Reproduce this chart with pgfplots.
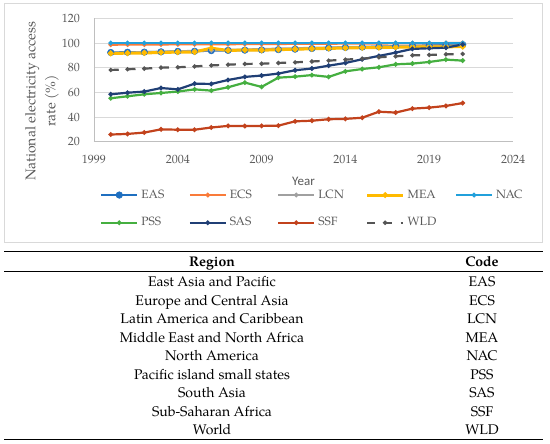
\documentclass[border=0pt]{standalone}
\usepackage{pgfplots}
\pgfplotsset{compat=1.18}
\usepackage{fontspec}
\setmainfont{TeX Gyre Pagella}
\newfontfamily\carlito{Carlito}
\definecolor{cEAS}{HTML}{1F6FC0}
\definecolor{cECS}{HTML}{F97B3A}
\definecolor{cLCN}{HTML}{A0A0A0}
\definecolor{cMEA}{HTML}{FFBA00}
\definecolor{cNAC}{HTML}{21A0DB}
\definecolor{cPSS}{HTML}{45AF40}
\definecolor{cSAS}{HTML}{203F75}
\definecolor{cSSF}{HTML}{C2421C}
\definecolor{cWLD}{HTML}{555555}
\definecolor{cGrid}{HTML}{D9D9D9}
\definecolor{cAxis}{HTML}{BFBFBF}
\definecolor{cText}{HTML}{595959}
\definecolor{cBorder}{HTML}{D9D9D9}

\pgfplotstableread{
year EAS ECS LCN MEA NAC PSS SAS SSF WLD
2000 92.3 98.6 91.8 91.6 100 55.2 58.4 25.8 78.1
2001 92.5 98.7 92.2 91.7 100 56.8 59.7 26.3 78.7
2002 92.6 98.7 92.6 91.9 100 58.4 60.6 27.4 79.2
2003 92.8 98.8 92.9 92.3 100 59.5 63.5 30.0 80.0
2004 93.2 98.9 93.2 92.6 100 60.6 62.4 29.7 80.3
2005 93.3 98.9 93.6 92.7 100 62.4 67.0 29.7 81.0
2006 93.8 99.0 94.0 95.8 100 61.4 66.8 31.5 81.8
2007 94.0 99.0 94.4 93.9 100 64.1 70.0 32.8 82.4
2008 94.2 99.1 94.7 94.3 100 67.9 72.5 32.7 83.0
2009 94.4 99.1 95.0 94.1 100 64.4 73.6 32.8 83.2
2010 94.6 99.2 95.4 94.6 100 71.9 75.2 33.0 83.8
2011 95.0 99.3 95.7 94.9 100 72.7 77.9 36.5 84.3
2012 95.5 99.3 96.0 95.3 100 74.0 79.3 37.0 85.0
2013 96.0 99.4 96.3 95.6 100 72.5 81.6 38.2 85.7
2014 96.4 99.5 96.6 95.9 100 77.0 83.8 38.5 86.5
2015 96.7 99.5 96.9 96.2 100 78.9 86.8 39.4 87.3
2016 97.0 99.6 97.1 96.3 100 80.3 89.5 44.3 88.4
2017 97.4 99.7 97.3 96.5 100 82.7 92.2 43.6 89.2
2018 97.7 99.7 97.5 96.7 100 83.3 95.2 46.8 90.0
2019 98.0 99.8 97.7 96.8 100 84.6 95.7 47.6 90.3
2020 98.3 99.9 97.9 96.9 100 86.5 96.2 49.0 90.8
2021 98.6 99.9 98.1 97.0 100 85.7 98.8 51.3 91.1
}\datatable

\begin{document}
\begin{tikzpicture}[x=1pt,y=1pt]
\path[use as bounding box] (0,0) rectangle (550,444);
\draw[color=cBorder, line width=0.8pt] (4,201.3) rectangle (542,441);
\begin{axis}[
  at={(94pt,302.3pt)}, anchor=south west,
  scale only axis, width=419pt, height=123.4pt,
  xmin=1999, xmax=2024, ymin=20, ymax=120,
  xtick={1999,2004,2009,2014,2019,2024},
  ytick={20,40,60,80,100,120},
  axis x line=bottom, axis y line=left,
  axis line style={-, draw=cAxis, line width=0.8pt},
  major tick length=0pt,
  ymajorgrids, grid style={cGrid, line width=0.8pt},
  /pgf/number format/assume math mode=true,
  /pgf/number format/1000 sep={},
  tick label style={font=\fontsize{12}{14}\selectfont, text=cText},
  xticklabel style={anchor=center, yshift=-18pt},
  yticklabel style={anchor=east, inner sep=0pt, xshift=-14pt},
  ylabel={National electricity access\\rate (\%)},
  ylabel style={at={(axis description cs:-0.124,0.33)}, anchor=center, align=center,
    font=\fontsize{14}{20}\selectfont, text=cText},
  xlabel={Year},
  xlabel style={at={(axis description cs:0.5,-0.318)}, anchor=center,
    font=\carlito\fontsize{13}{15}\selectfont, text=cText},
  legend columns=5,
  legend style={at={(axis description cs:0.00716,-0.5446)}, anchor=west,
    draw=none, fill=none, font=\fontsize{12}{14}\selectfont, text=cText,
    column sep=0pt, row sep=15.7pt,
    nodes={inner sep=0pt, text width=47.3pt, text height=9pt, text depth=3pt, align=left},
    /tikz/every odd column/.append style={column sep=3pt}},
  legend image code/.code={\draw[#1, mark repeat=2, mark phase=2] plot coordinates {(0pt,0pt) (18pt,0pt) (36pt,0pt)};},
  every axis plot/.append style={line width=2.2pt, mark=*, mark size=1.1pt, mark options={solid}},
  clip=false,
]
\addplot[cEAS, mark size=3.3pt, mark options={draw=cEAS, fill=cEAS, line width=0.5pt}] table[x=year, y=EAS] {\datatable};
\addlegendentry{EAS}
\addplot[cECS] table[x=year, y=ECS] {\datatable};
\addlegendentry{ECS}
\addplot[cLCN] table[x=year, y=LCN] {\datatable};
\addlegendentry{LCN}
\addplot[cMEA, line width=3pt] table[x=year, y=MEA] {\datatable};
\addlegendentry{MEA}
\addplot[cNAC] table[x=year, y=NAC] {\datatable};
\addlegendentry{NAC}
\addplot[cPSS] table[x=year, y=PSS] {\datatable};
\addlegendentry{PSS}
\addplot[cSAS] table[x=year, y=SAS] {\datatable};
\addlegendentry{SAS}
\addplot[cSSF] table[x=year, y=SSF] {\datatable};
\addlegendentry{SSF}
\addplot[cWLD, line width=2.2pt, dash pattern=on 8pt off 8.76pt, mark size=0.9pt] table[x=year, y=WLD] {\datatable};
\addlegendentry{WLD}
\end{axis}
% table
\draw[line width=1.4pt] (4,192.3) -- (543,192.3);
\draw[line width=0.7pt] (4,172.3) -- (543,172.3);
\draw[line width=1.4pt] (4,4.7) -- (543,4.7);
\tikzset{tcell/.style={anchor=center, inner sep=0pt, text height=9.7pt, text depth=0pt, font=\fontsize{14}{16}\selectfont}}
\node[tcell, font=\bfseries\fontsize{14}{16}\selectfont] at (212,182) {Region};
\node[tcell, font=\bfseries\fontsize{14}{16}\selectfont] at (482,182) {Code};
\foreach \r/\c [count=\i from 0] in {East Asia and Pacific/EAS, Europe and Central Asia/ECS, Latin America and Caribbean/LCN, Middle East and North Africa/MEA, North America/NAC, Pacific island small states/PSS, South Asia/SAS, Sub-Saharan Africa/SSF, World/WLD}{
  \node[tcell] at (212,162.3-18.53*\i) {\r};
  \node[tcell] at (482,162.3-18.53*\i) {\c};
}
\end{tikzpicture}
\end{document}
